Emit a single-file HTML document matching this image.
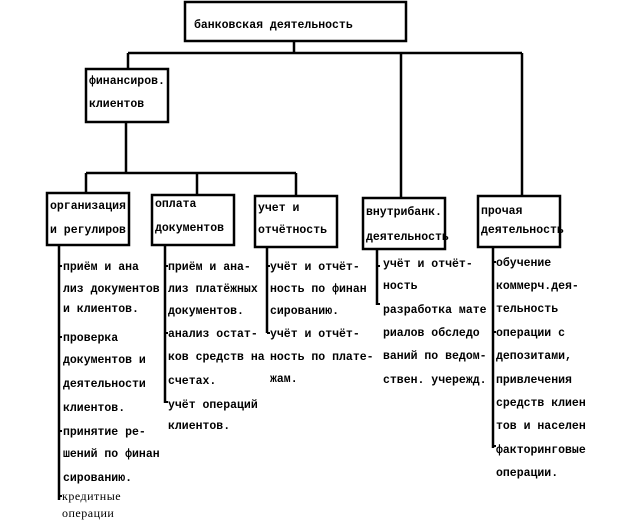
<!DOCTYPE html>
<html><head><meta charset="utf-8"><style>
html,body{margin:0;padding:0;background:#fff;}
svg{display:block}
text{font-family:"Liberation Mono","DejaVu Sans Mono",monospace;font-size:11.5px;fill:#000;font-weight:bold;}
.s{font-size:11px;}
.n{font-weight:normal;font-family:"Liberation Serif",serif;font-size:12px;letter-spacing:0.5px}
</style></head><body>
<svg width="623" height="530" viewBox="0 0 623 530" xmlns="http://www.w3.org/2000/svg">
<g fill="none" stroke="#000" stroke-width="2.5">
<rect x="185" y="2" width="221" height="39"/>
<rect x="86" y="69" width="82" height="53"/>
<rect x="47" y="193" width="82" height="52"/>
<rect x="152" y="195" width="82" height="50"/>
<rect x="255" y="196" width="82" height="51"/>
<rect x="363" y="198" width="82" height="51"/>
<rect x="478" y="196" width="82" height="51"/>
<path d="M294 41V53M128 53H522M128 53V69M401 53V198M522 53V196"/>
<path d="M126 122V173M86 173H296M86 173V193M197 173V195M296 173V196"/>
<path d="M59 245V500M165 245V403M267 247V333M377 249V305M493 247V448"/>
<path d="M59 266H62M59 337H62M59 431H62M59 496H62M165 266H168M165 333H168M165 402H168M267 266H270M267 333H270M377 266H380M377 304H380M493 262H496M493 332H496M493 446H496" stroke-width="2"/>
</g>
<text x="194" y="28">банковская деятельность</text>
<text x="89" y="84">финансиров.</text>
<text x="89" y="107">клиентов</text>
<text x="50" y="209">организация</text>
<text x="50" y="233">и регулиров</text>
<text x="155" y="207">оплата</text>
<text x="155" y="231">документов</text>
<text x="258" y="211">учет и</text>
<text x="258" y="233">отчётность</text>
<text x="366" y="215">внутрибанк.</text>
<text x="366" y="240">деятельность</text>
<text x="481" y="214">прочая</text>
<text x="481" y="233">деятельность</text>
<g class="s">
<text x="63" y="270">приём и ана</text>
<text x="63" y="292">лиз документов</text>
<text x="63" y="312">и клиентов.</text>
<text x="63" y="341">проверка</text>
<text x="63" y="363">документов и</text>
<text x="63" y="387">деятельности</text>
<text x="63" y="411">клиентов.</text>
<text x="63" y="435">принятие ре-</text>
<text x="63" y="457">шений по финан</text>
<text x="63" y="481">сированию.</text>
<text class="n" x="62" y="500">кредитные</text>
<text class="n" x="62" y="517">операции</text>
<text x="168" y="270">приём и ана-</text>
<text x="168" y="292">лиз платёжных</text>
<text x="168" y="314">документов.</text>
<text x="168" y="337">анализ остат-</text>
<text x="168" y="360">ков средств на</text>
<text x="168" y="384">счетах.</text>
<text x="168" y="408">учёт операций</text>
<text x="168" y="429">клиентов.</text>
<text x="270" y="270">учёт и отчёт-</text>
<text x="270" y="292">ность по финан</text>
<text x="270" y="314">сированию.</text>
<text x="270" y="337">учёт и отчёт-</text>
<text x="270" y="360">ность по плате-</text>
<text x="270" y="382">жам.</text>
<text x="383" y="267">учёт и отчёт-</text>
<text x="383" y="289">ность</text>
<text x="383" y="313">разработка мате</text>
<text x="383" y="336">риалов обследо</text>
<text x="383" y="359">ваний по ведом-</text>
<text x="383" y="383">ствен. учережд.</text>
<text x="496" y="266">обучение</text>
<text x="496" y="289">коммерч.дея-</text>
<text x="496" y="312">тельность</text>
<text x="496" y="336">операции с</text>
<text x="496" y="359">депозитами,</text>
<text x="496" y="383">привлечения</text>
<text x="496" y="406">средств клиен</text>
<text x="496" y="429">тов и населен</text>
<text x="496" y="453">факторинговые</text>
<text x="496" y="476">операции.</text>
</g>
</svg>
</body></html>
